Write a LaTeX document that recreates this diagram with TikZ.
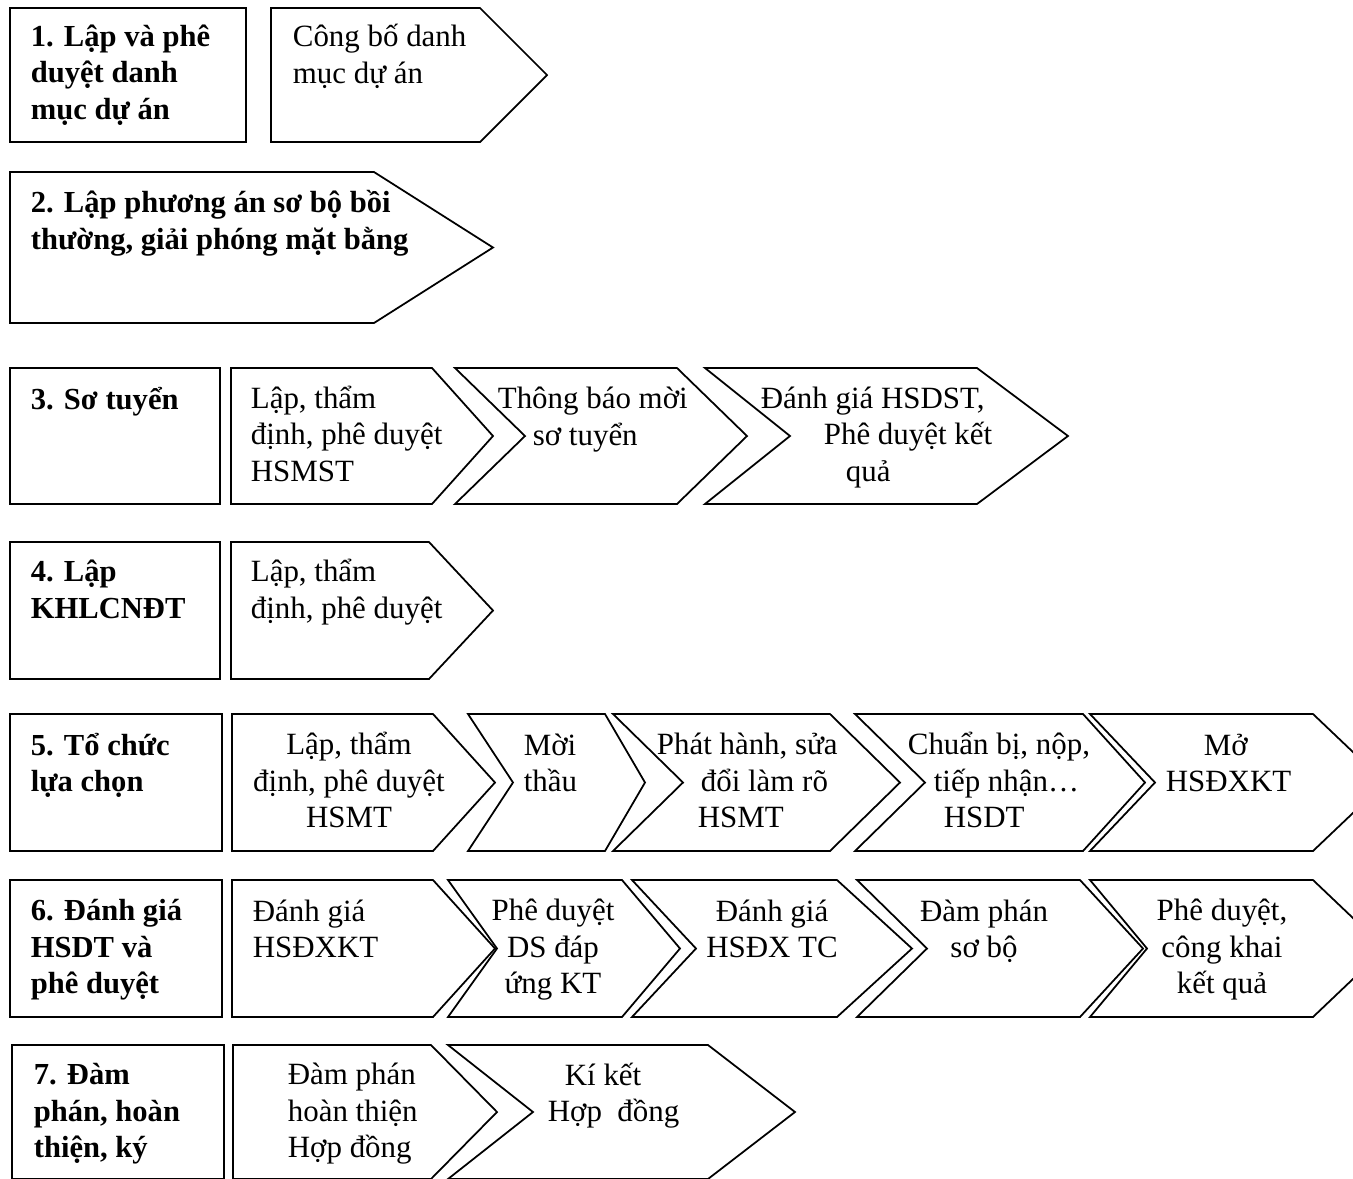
\documentclass[tikz,border=0pt]{standalone}
\usepackage{fontspec}
\setmainfont{Liberation Serif}

% pentagon: left, corner, tip, top, bottom
\newcommand{\tabshape}[5]{\draw (#1,#4) -- (#2,#4) -- (#3,{(#4+#5)/2}) -- (#2,#5) -- (#1,#5) -- cycle;}
% chevron: left, notch, corner, tip, top, bottom
\newcommand{\chevshape}[6]{\draw (#1,#5) -- (#3,#5) -- (#4,{(#5+#6)/2}) -- (#3,#6) -- (#1,#6) -- (#2,{(#5+#6)/2}) -- cycle;}

\begin{document}
\begin{tikzpicture}[x=0.02cm,y=-0.02cm,line width=1pt,
  lbl/.style={anchor=base west,inner sep=0pt,align=left,font=\fontsize{17.6}{20.5}\selectfont},
  clbl/.style={anchor=base,inner sep=0pt,align=center,font=\fontsize{17.6}{20.5}\selectfont},
  head/.style={lbl,font=\fontsize{17.4}{20.5}\selectfont\bfseries}]
\clip (0,0) rectangle (1353,1178);

% row 1 (text nodes sit on the baseline of their last line)
\draw (10,8) rectangle (246,142);
\tabshape{271}{480}{547}{8}{142}
\node[head] (h1) at (30,119) {1. Lập và phê\\duyệt danh\\mục dự án};
\node[lbl] (s11) at (292,83) {Công bố danh\\mục dự án};

% row 2
\tabshape{10}{374}{493}{172}{323}
\node[head] (h2) at (30,249) {2. Lập phương án sơ bộ bồi\\thường, giải phóng mặt bằng};

% row 3
\draw (10,368) rectangle (220,504);
\tabshape{231}{432}{493}{368}{504}
\chevshape{455}{525}{677}{747}{368}{504}
\chevshape{705}{790}{977}{1068}{368}{504}
\node[head] (h3) at (30,409) {3. Sơ tuyển};
\node[lbl] (s31) at (250,481) {Lập, thẩm\\định, phê duyệt\\HSMST};
\node[lbl] (s32) at (497,445) {Thông báo mời\\\hspace*{0.7cm}sơ tuyển};
\node[lbl] (s33) at (760,481) {Đánh giá HSDST,\\\hspace*{1.26cm}Phê duyệt kết\\\hspace*{1.7cm}quả};

% row 4
\draw (10,542) rectangle (220,679);
\tabshape{231}{429}{493}{542}{679}
\node[head] (h4) at (30,618) {4. Lập\\KHLCNĐT};
\node[lbl] (s41) at (250,618) {Lập, thẩm\\định, phê duyệt};

% row 5
\draw (10,714) rectangle (222,851);
\tabshape{232}{433}{495}{714}{851}
\chevshape{468}{513}{605}{645}{714}{851}
\chevshape{613}{683}{830}{900}{714}{851}
\chevshape{855}{925}{1083}{1145}{714}{851}
\chevshape{1090}{1155}{1313}{1385}{714}{851}
\node[head] (h5) at (30,791) {5. Tổ chức\\lựa chọn};
\node[clbl] (s51) at (349,827) {Lập, thẩm\\định, phê duyệt\\HSMT};
\node[lbl] (s52) at (523,791) {Mời\\thầu};
\node[lbl] (s53) at (656,827) {Phát hành, sửa\\\hspace*{0.88cm}đổi làm rõ\\\hspace*{0.82cm}HSMT};
\node[lbl] (s54) at (907,827) {Chuẩn bị, nộp,\\\hspace*{0.52cm}tiếp nhận…\\\hspace*{0.72cm}HSDT};
\node[lbl] (s55) at (1165,791) {\hspace*{0.76cm}Mở\\HSĐXKT};

% row 6
\draw (10,880) rectangle (222,1017);
\tabshape{232}{433}{495}{880}{1017}
\chevshape{448}{497}{622}{680}{880}{1017}
\chevshape{632}{696}{837}{912}{880}{1017}
\chevshape{857}{927}{1080}{1143}{880}{1017}
\chevshape{1090}{1147}{1313}{1385}{880}{1017}
\node[head] (h6) at (30,993) {6. Đánh giá\\HSDT và\\phê duyệt};
\node[lbl] (s61) at (252,957) {Đánh giá\\HSĐXKT};
\node[clbl] (s62) at (553,993) {Phê duyệt\\DS đáp\\ứng KT};
\node[clbl] (s63) at (772,957) {Đánh giá\\HSĐX TC};
\node[clbl] (s64) at (984,957) {Đàm phán\\sơ bộ};
\node[clbl] (s65) at (1222,993) {Phê duyệt,\\công khai\\kết quả};

% row 7
\draw (12,1045) rectangle (224,1179);
\tabshape{233}{431}{497}{1045}{1179}
\chevshape{448}{533}{708}{795}{1045}{1179}
\node[head] (h7) at (33,1157) {7. Đàm\\phán, hoàn\\thiện, ký};
\node[lbl] (s71) at (287,1157) {Đàm phán\\hoàn thiện\\Hợp đồng};
\node[lbl] (s72) at (547,1121) {\hspace*{0.34cm}Kí kết\\Hợp~ đồng};
\end{tikzpicture}
\end{document}
